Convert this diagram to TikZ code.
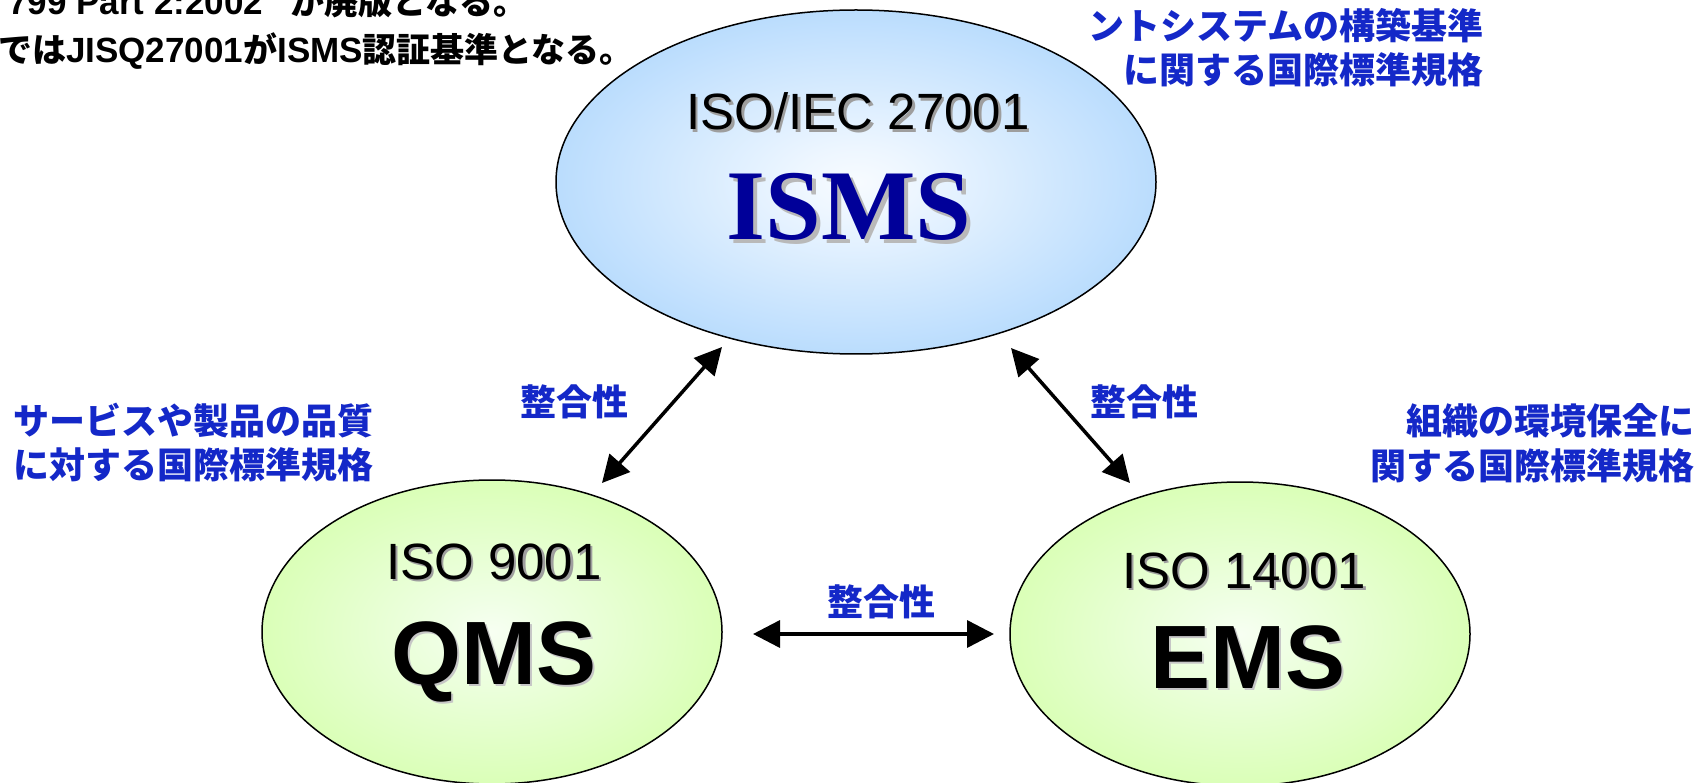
\documentclass[tikz,border=0pt]{standalone}
\usepackage{fontspec}
\setmainfont{Liberation Sans}
\newfontfamily\jp{Noto Sans CJK JP}
\newfontfamily\tnr{Liberation Serif}
\usetikzlibrary{shapes.geometric,arrows.meta}

\definecolor{jblue}{HTML}{1428C8}
\definecolor{ismsblue}{HTML}{000099}
\definecolor{shadowgray}{gray}{0.62}

% Latin runs inside the black notes
\newcommand\latpart[1]{{\normalfont\bfseries\fontsize{35}{35}\selectfont #1}}

% soft radial fills: pale centre, saturated rim
\pgfdeclareradialshading{bluefill}{\pgfpoint{0bp}{0bp}}{%
  rgb(0bp)=(0.97,0.985,1); rgb(5bp)=(0.93,0.965,1);
  rgb(36bp)=(0.62,0.81,0.99); rgb(50bp)=(0.6,0.8,1)}
\pgfdeclareradialshading{greenfill}{\pgfpoint{0bp}{0bp}}{%
  rgb(0bp)=(0.97,1,0.95); rgb(5bp)=(0.94,1,0.90);
  rgb(36bp)=(0.81,1,0.62); rgb(50bp)=(0.8,1,0.6)}

\tikzset{
  sysell/.style={ellipse, draw=black, line width=1.5pt, inner sep=0pt},
  jlabel/.style={font=\jp\bfseries\fontsize{36}{36}\selectfont, text=jblue, inner sep=0pt},
  notetext/.style={font=\jp\bfseries\fontsize{34}{34}\selectfont, text=black, inner sep=0pt, anchor=base west},
  stdname/.style={font=\fontsize{51}{51}\selectfont, inner sep=0pt, anchor=base},
  abbr/.style={font=\bfseries\fontsize{90}{90}\selectfont, inner sep=0pt, anchor=base},
  shadowed/.style={text=shadowgray},
  link/.style={line width=3.5pt,
    {Triangle[length=27pt,width=27pt]}-{Triangle[length=27pt,width=27pt]}}
}

\begin{document}
\begin{tikzpicture}[x=1pt,y=-1pt]
\useasboundingbox (0,0) rectangle (1702,783);
\fill[white] (0,0) rectangle (1702,783);
\clip (0,0) rectangle (1702,783);

% notes at the upper left
\node[notetext] (note1) at (8,15) {\latpart{799 Part 2:2002” }が廃版となる。};
\node[notetext] (note2) at (-2,63) {では\latpart{JISQ27001}が\latpart{ISMS}認証基準となる。};

% the three management systems
\node[sysell, shading=bluefill, minimum width=600pt, minimum height=344pt] (isms) at (856,182) {};
\node[sysell, shading=greenfill, minimum width=460pt, minimum height=304pt] (qms) at (492,632) {};
\node[sysell, shading=greenfill, minimum width=460pt, minimum height=304pt] (ems) at (1240,634) {};

% ISMS
\node[stdname, shadowed] (isoS) at (860.5,132.5) {ISO/IEC 27001};
\node[stdname] (iso) at (858,130) {ISO/IEC 27001};
\node[font=\tnr\bfseries\fontsize{100}{100}\selectfont, inner sep=0pt, anchor=base, text=gray!55] (ismsS) at (853,244) {ISMS};
\node[font=\tnr\bfseries\fontsize{100}{100}\selectfont, inner sep=0pt, anchor=base, text=ismsblue] (ismsT) at (849,240) {ISMS};

% QMS
\node[stdname, shadowed] (q9001S) at (496.5,581.5) {ISO 9001};
\node[stdname] (q9001) at (494,579) {ISO 9001};
\node[abbr, text=gray!45] (qmsS) at (496,686) {QMS};
\node[abbr] (qmsT) at (494,684) {QMS};

% EMS
\node[stdname, shadowed] (e14001S) at (1246.5,590.5) {ISO 14001};
\node[stdname] (e14001) at (1244,588) {ISO 14001};
\node[abbr, text=gray!45] (emsS) at (1250,690) {EMS};
\node[abbr] (emsT) at (1248,688) {EMS};

% descriptions
\node[jlabel, anchor=base east] (idesc1) at (1484,40) {ントシステムの構築基準};
\node[jlabel, anchor=base east] (idesc2) at (1484,84) {に関する国際標準規格};
\node[jlabel, anchor=base west] (qdesc1) at (13,434) {サービスや製品の品質};
\node[jlabel, anchor=base west] (qdesc2) at (13,478) {に対する国際標準規格};
\node[jlabel, anchor=base east] (edesc1) at (1695,434) {組織の環境保全に};
\node[jlabel, anchor=base east] (edesc2) at (1695,479) {関する国際標準規格};

% consistency links
\coordinate (lq) at (602,483);
\coordinate (li) at (722,347);
\coordinate (ri) at (1011,348);
\coordinate (re) at (1130,483);
\coordinate (hq) at (753,634);
\coordinate (he) at (994,634);
\draw[link] (lq) -- (li);
\draw[link] (ri) -- (re);
\draw[link] (hq) -- (he);

\node[jlabel, anchor=base] (c1) at (574,415) {整合性};
\node[jlabel, anchor=base] (c2) at (1144,415) {整合性};
\node[jlabel, anchor=base] (c3) at (881,615) {整合性};
\end{tikzpicture}
\end{document}
